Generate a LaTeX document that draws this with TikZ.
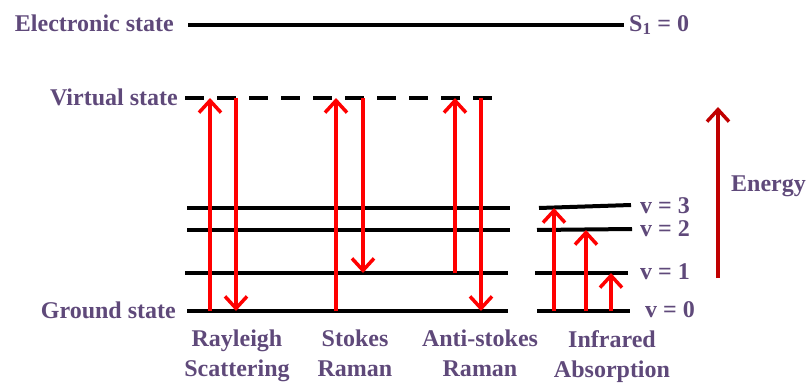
\documentclass[tikz,border=0pt]{standalone}
\usepackage{fontspec}
\setmainfont{Liberation Serif}
\usetikzlibrary{arrows.meta}
\definecolor{txt}{HTML}{5F497A}
\definecolor{ered}{HTML}{C00000}
\begin{document}
\begin{tikzpicture}[x=1pt,y=-1pt,
  lvl/.style={line width=4pt,black},
  vlvl/.style={line width=4pt,black,dash pattern=on 19pt off 13pt},
  photon/.style={line width=3.5pt,red,-{Straight Barb[length=12pt,width=22pt,line width=3.5pt]}},
  energy/.style={line width=3.5pt,ered,-{Straight Barb[length=12pt,width=22pt,line width=3.5pt]}},
  lbl/.style={text=txt,font=\fontsize{24}{30}\selectfont\bfseries,inner sep=0pt},
  captxt/.style={lbl,align=center,anchor=north}]
\useasboundingbox (0,0) rectangle (810,387);
% levels
\draw[lvl] (188,25) coordinate (e1) -- (624,25) coordinate (e2);
\draw[vlvl] (185,98) coordinate (vs1) -- (497,98) coordinate (vs2);
\draw[lvl] (187,208) -- (510,208);
\draw[lvl] (187,230) -- (510,230);
\draw[lvl] (185,273) -- (508,273);
\draw[lvl] (187,311) -- (508,311);
\draw[lvl] (539,208) -- (631,205);
\draw[lvl] (537,230) -- (632,229);
\draw[lvl] (535,273) -- (628,273);
\draw[lvl] (537,311) -- (630,311);
% labels left
\node[lbl,anchor=east] (les) at (174,23) {Electronic state};
\node[lbl,anchor=east] (lvs) at (178,97) {Virtual state};
\node[lbl,anchor=east] (lgs) at (176,310) {Ground state};
\node[lbl,anchor=west] (ls1) at (629,25) {S\textsubscript{1} = 0};
\node[lbl,anchor=west] (lv3) at (640,206) {v = 3};
\node[lbl,anchor=west] (lv2) at (640,229) {v = 2};
\node[lbl,anchor=west] (lv1) at (640,272) {v = 1};
\node[lbl,anchor=west] (lv0) at (645,310) {v = 0};
% coordinates for arrows
\coordinate (r1a) at (210,311); \coordinate (r1b) at (210,98);
\coordinate (r2a) at (236,98);  \coordinate (r2b) at (236,311);
\coordinate (s1a) at (336,311); \coordinate (s1b) at (336,98);
\coordinate (s2a) at (363,98);  \coordinate (s2b) at (363,273);
\coordinate (a1a) at (455,273); \coordinate (a1b) at (455,98);
\coordinate (a2a) at (481,98);  \coordinate (a2b) at (481,311);
\coordinate (i1a) at (554,311); \coordinate (i1b) at (554,208);
\coordinate (i2a) at (586,311); \coordinate (i2b) at (586,230);
\coordinate (i3a) at (611,311); \coordinate (i3b) at (611,273);
\coordinate (en1) at (718,278); \coordinate (en2) at (718,107);
\draw[photon] (r1a) -- (r1b);
\draw[photon] (r2a) -- (r2b);
\draw[photon] (s1a) -- (s1b);
\draw[photon] (s2a) -- (s2b);
\draw[photon] (a1a) -- (a1b);
\draw[photon] (a2a) -- (a2b);
\draw[photon] (i1a) -- (i1b);
\draw[photon] (i2a) -- (i2b);
\draw[photon] (i3a) -- (i3b);
\draw[energy] (en1) -- (en2);
\node[lbl,anchor=west] (len) at (731,186) {Energy};
% captions
\node[captxt] (crs) at (237,330) {Rayleigh\\Scattering};
\node[captxt] (cst) at (355,330) {Stokes\\Raman};
\node[captxt] (cas) at (480,330) {Anti-stokes\\Raman};
\node[captxt] (cir) at (612,330) {Infrared\\Absorption};
\end{tikzpicture}
\end{document}
